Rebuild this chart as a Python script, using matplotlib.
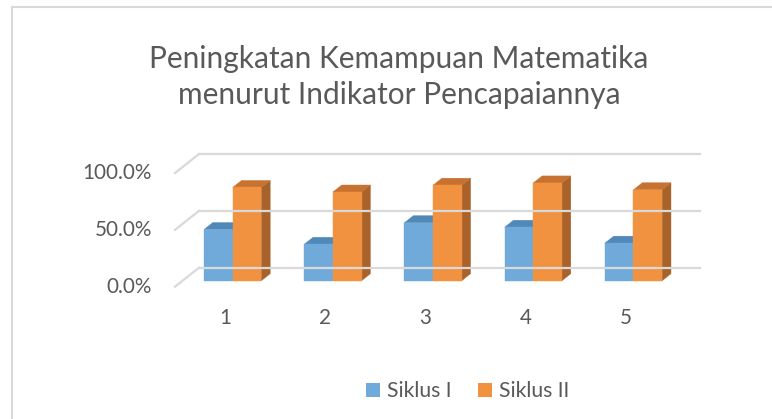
import matplotlib
matplotlib.use("Agg")
import matplotlib.pyplot as plt
from matplotlib.patches import Polygon
from matplotlib.lines import Line2D

# ---- data ----
categories = ["1", "2", "3", "4", "5"]
siklus_1 = [0.45, 0.32, 0.51, 0.47, 0.33]
siklus_2 = [0.82, 0.78, 0.84, 0.86, 0.80]
series_names = ["Siklus I", "Siklus II"]
y_ticks = [0.0, 0.5, 1.0]
y_tick_labels = ["0.0%", "50.0%", "100.0%"]
title = "Peningkatan Kemampuan Matematika\nmenurut Indikator Pencapaiannya"

# ---- styles ----
FONT = ["Lato", "DejaVu Sans"]
TXT = "#595959"
GRID = "#D9D9D9"
face_cols = [("#6FAADB", "#5088B8", "#4A7DAA"),
             ("#F19240", "#C87232", "#A8622A")]

W, H = 772, 419
fig = plt.figure(figsize=(W / 100, H / 100), dpi=100)

# axis geometry in pixels
x_front0, x_back1 = 175.0, 700.0
y_front0, y_back_top = 286.7, 154.0
cat_px = 100.2
val_px = 113.4
dx_px, dy_px = 24.0, 19.0
DX = dx_px / cat_px
DY = dy_px / val_px
n = len(categories)

ax = fig.add_axes([x_front0 / W, (H - y_front0) / H,
                   (x_back1 - x_front0) / W, (y_front0 - y_back_top) / H])
ax.set_xlim(0, n + DX)
ax.set_ylim(0, 1 + DY)
ax.axis("off")

# walls / gridlines
for v, lab in zip(y_ticks, y_tick_labels):
    ax.add_line(Line2D([DX, n + DX], [v + DY, v + DY], color=GRID, lw=1.6, clip_on=False))
    ax.add_line(Line2D([0, DX], [v, v + DY], color=GRID, lw=1.6, clip_on=False))
    ax.text(-23 / cat_px, v, lab, ha="right", va="center",
            fontsize=14.9, color=TXT, family=FONT)

# bars
f0, f1 = 6 / 19, 13 / 19
bw = 0.286
ox, oy = f0 * DX, f0 * DY
ddx, ddy = (f1 - f0) * DX, (f1 - f0) * DY
for i in range(n):
    cx = i + 0.5
    for s, vals in enumerate([siklus_1, siklus_2]):
        v = vals[i]
        x0 = cx - bw + s * bw + ox
        x1 = x0 + bw
        front, top, side = face_cols[s]
        ax.add_patch(Polygon([(x1, oy), (x1 + ddx, oy + ddy), (x1 + ddx, v + oy + ddy), (x1, v + oy)],
                             closed=True, fc=side, ec=side, lw=0.3, clip_on=False))
        ax.add_patch(Polygon([(x0, v + oy), (x1, v + oy), (x1 + ddx, v + oy + ddy), (x0 + ddx, v + oy + ddy)],
                             closed=True, fc=top, ec=top, lw=0.3, clip_on=False))
        ax.add_patch(Polygon([(x0, oy), (x1, oy), (x1, v + oy), (x0, v + oy)],
                             closed=True, fc=front, ec=front, lw=0.3, clip_on=False))
    ax.text(cx, -(318 - y_front0) / val_px, categories[i], ha="center", va="center",
            fontsize=14.9, color=TXT, family=FONT)

# title
fig.text(399 / W, 1 - 77 / H, title, ha="center", va="center", fontsize=21.5,
         color=TXT, family=FONT, linespacing=1.32)

# legend
leg_handles = [plt.Rectangle((0, 0), 1, 1, fc=face_cols[k][0], ec="none") for k in range(2)]
fig.legend(leg_handles, series_names, loc="center", bbox_to_anchor=(468 / W, 1 - 391 / H),
           ncol=2, frameon=False, prop={"family": FONT, "size": 15.2},
           labelcolor=TXT, handlelength=0.65, handleheight=0.65, handletextpad=0.35,
           columnspacing=1.25)

# chart border (top and left visible)
fig.add_artist(Line2D([12.5 / W, 12.5 / W], [0, 1 - 7.5 / H], color=GRID, lw=1.5))
fig.add_artist(Line2D([12.5 / W, 1], [1 - 7.5 / H, 1 - 7.5 / H], color=GRID, lw=1.5))

fig.savefig("out.png", dpi=100, facecolor="white")
